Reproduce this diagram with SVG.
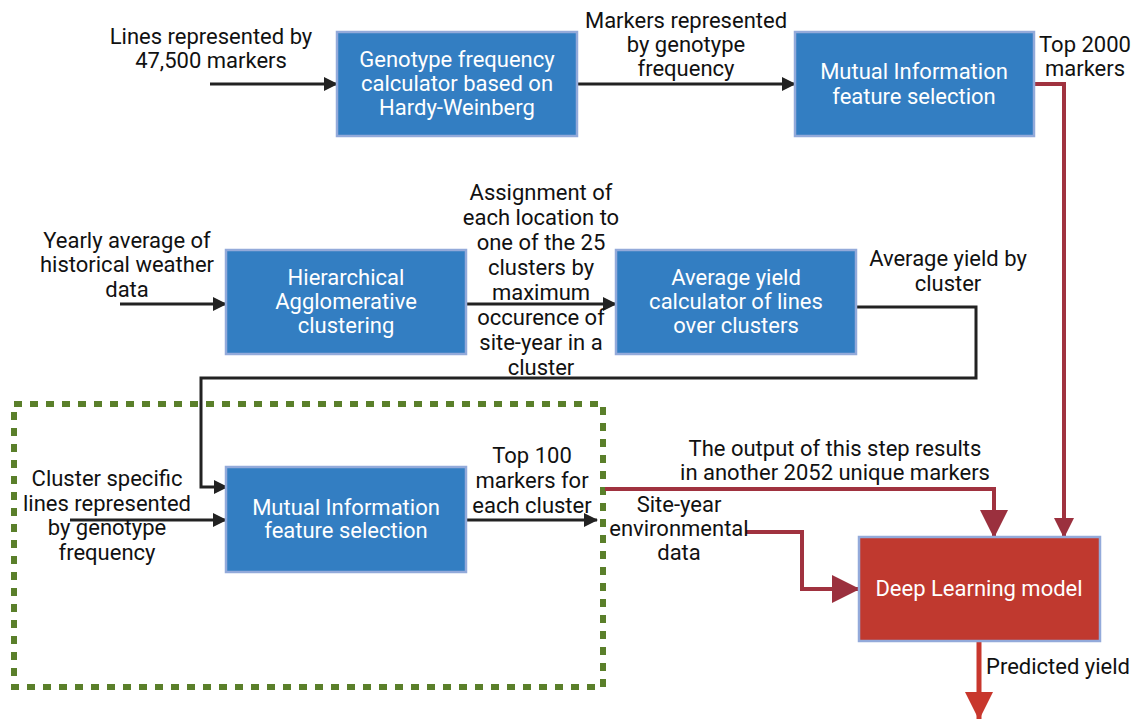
<svg xmlns="http://www.w3.org/2000/svg" width="1138" height="719" viewBox="0 0 1138 719">
  <defs>
    <style>
      .box { fill: #337EC2; stroke: #93AADA; stroke-width: 2.5; }
      .box-dl { fill: #C0392F; stroke: #93AADA; stroke-width: 2.5; }
      .in { font-family: Roboto, "Liberation Sans", sans-serif; font-size: 22px; fill: #FFFFFF; text-anchor: middle; }
      .lbl { font-family: Roboto, "Liberation Sans", sans-serif; font-size: 22px; fill: #111111; text-anchor: middle; }
      .lbl-start { text-anchor: start; }
      .blk { fill: none; stroke: #222222; stroke-width: 3; }
      .red { fill: none; stroke: #A0323F; stroke-width: 4; }
      .red-out { fill: none; stroke: #C8372D; stroke-width: 5; }
      .group { fill: none; stroke: #5A7F2A; stroke-width: 6; stroke-dasharray: 8 8; }
    </style>
    <marker id="ah-black" markerUnits="userSpaceOnUse" markerWidth="14" markerHeight="14" viewBox="0 0 14 14" refX="13" refY="7" orient="auto">
      <path d="M0,0 L14,7 L0,14 Z" fill="#222222"/>
    </marker>
    <marker id="ah-red-big" markerUnits="userSpaceOnUse" markerWidth="28" markerHeight="28" viewBox="0 0 28 28" refX="27" refY="14" orient="auto">
      <path d="M0,0 L28,14 L0,28 Z" fill="#9B303E"/>
    </marker>
    <marker id="ah-red-small" markerUnits="userSpaceOnUse" markerWidth="20" markerHeight="20" viewBox="0 0 20 20" refX="19" refY="10" orient="auto">
      <path d="M0,0 L20,10 L0,20 Z" fill="#9B303E"/>
    </marker>
    <marker id="ah-out" markerUnits="userSpaceOnUse" markerWidth="28" markerHeight="28" viewBox="0 0 28 28" refX="27" refY="14" orient="auto">
      <path d="M0,0 L28,14 L0,28 Z" fill="#C8372D"/>
    </marker>
  </defs>

  <rect width="1138" height="719" fill="#FFFFFF"/>

  <!-- dashed group around the per-cluster selection stage -->
  <rect id="cluster-stage" class="group" x="14" y="404" width="589" height="283"/>

  <!-- connectors -->
  <g id="connectors">
    <line class="blk" x1="210" y1="84" x2="337" y2="84" marker-end="url(#ah-black)"/>
    <line class="blk" x1="577" y1="84" x2="795" y2="84" marker-end="url(#ah-black)"/>
    <polyline class="red" points="1034,84 1064,84 1064,537" marker-end="url(#ah-red-small)"/>
    <line class="blk" x1="120" y1="304" x2="226" y2="304" marker-end="url(#ah-black)"/>
    <line class="blk" x1="466" y1="304" x2="616" y2="304" marker-end="url(#ah-black)"/>
    <polyline class="blk" points="855,307 976,307 976,378 201,378 201,487 227,487" marker-end="url(#ah-black)"/>
    <line class="blk" x1="70" y1="520" x2="226" y2="520" marker-end="url(#ah-black)"/>
    <line class="blk" x1="466" y1="520" x2="597" y2="520" marker-end="url(#ah-black)"/>
    <polyline class="red" points="605,489 994,489 994,537" marker-end="url(#ah-red-big)"/>
    <polyline class="red" points="746,532 802,532 802,589 859,589" marker-end="url(#ah-red-big)"/>
    <line class="red-out" x1="979" y1="642" x2="979" y2="719" marker-end="url(#ah-out)"/>
  </g>

  <!-- processing steps -->
  <g id="genotype-frequency">
    <rect class="box" x="337" y="32" width="240" height="104"/>
    <text class="in" x="457" y="67">Genotype frequency</text>
    <text class="in" x="457" y="91">calculator based on</text>
    <text class="in" x="457" y="115">Hardy-Weinberg</text>
  </g>

  <g id="mi-selection-global">
    <rect class="box" x="795" y="32" width="239" height="104"/>
    <text class="in" x="914" y="79">Mutual Information</text>
    <text class="in" x="914" y="104">feature selection</text>
  </g>

  <g id="hac-clustering">
    <rect class="box" x="226" y="250" width="240" height="104"/>
    <text class="in" x="346" y="285">Hierarchical</text>
    <text class="in" x="346" y="309">Agglomerative</text>
    <text class="in" x="346" y="333">clustering</text>
  </g>

  <g id="cluster-yield">
    <rect class="box" x="616" y="250" width="240" height="104"/>
    <text class="in" x="736" y="285">Average yield</text>
    <text class="in" x="736" y="309">calculator of lines</text>
    <text class="in" x="736" y="333">over clusters</text>
  </g>

  <g id="mi-selection-cluster">
    <rect class="box" x="226" y="467" width="240" height="105"/>
    <text class="in" x="346" y="515">Mutual Information</text>
    <text class="in" x="346" y="538">feature selection</text>
  </g>

  <g id="deep-learning">
    <rect class="box-dl" x="859" y="537" width="241" height="104"/>
    <text class="in" x="979" y="596">Deep Learning model</text>
  </g>

  <!-- data labels -->
  <g id="labels">
    <text class="lbl" x="211" y="44">Lines represented by</text>
    <text class="lbl" x="211" y="68">47,500 markers</text>

    <text class="lbl" x="686" y="28">Markers represented</text>
    <text class="lbl" x="686" y="52">by genotype</text>
    <text class="lbl" x="686" y="76">frequency</text>

    <text class="lbl" x="1085" y="52">Top 2000</text>
    <text class="lbl" x="1085" y="76">markers</text>

    <text class="lbl" x="127" y="248">Yearly average of</text>
    <text class="lbl" x="127" y="272">historical weather</text>
    <text class="lbl" x="127" y="297">data</text>

    <text class="lbl" x="541" y="200">Assignment of</text>
    <text class="lbl" x="541" y="225">each location to</text>
    <text class="lbl" x="541" y="250">one of the 25</text>
    <text class="lbl" x="541" y="275">clusters by</text>
    <text class="lbl" x="541" y="300">maximum</text>
    <text class="lbl" x="541" y="325">occurence of</text>
    <text class="lbl" x="541" y="350">site-year in a</text>
    <text class="lbl" x="541" y="375">cluster</text>

    <text class="lbl" x="948" y="266">Average yield by</text>
    <text class="lbl" x="948" y="291">cluster</text>

    <text class="lbl" x="107" y="486">Cluster specific</text>
    <text class="lbl" x="107" y="511">lines represented</text>
    <text class="lbl" x="107" y="535">by genotype</text>
    <text class="lbl" x="107" y="560">frequency</text>

    <text class="lbl" x="532" y="463">Top 100</text>
    <text class="lbl" x="532" y="488">markers for</text>
    <text class="lbl" x="532" y="513">each cluster</text>

    <text class="lbl" x="835" y="456">The output of this step results</text>
    <text class="lbl" x="835" y="480">in another 2052 unique markers</text>

    <text class="lbl" x="679" y="512">Site-year</text>
    <text class="lbl" x="679" y="536">environmental</text>
    <text class="lbl" x="679" y="560">data</text>

    <text class="lbl lbl-start" x="986" y="674">Predicted yield</text>
  </g>
</svg>
